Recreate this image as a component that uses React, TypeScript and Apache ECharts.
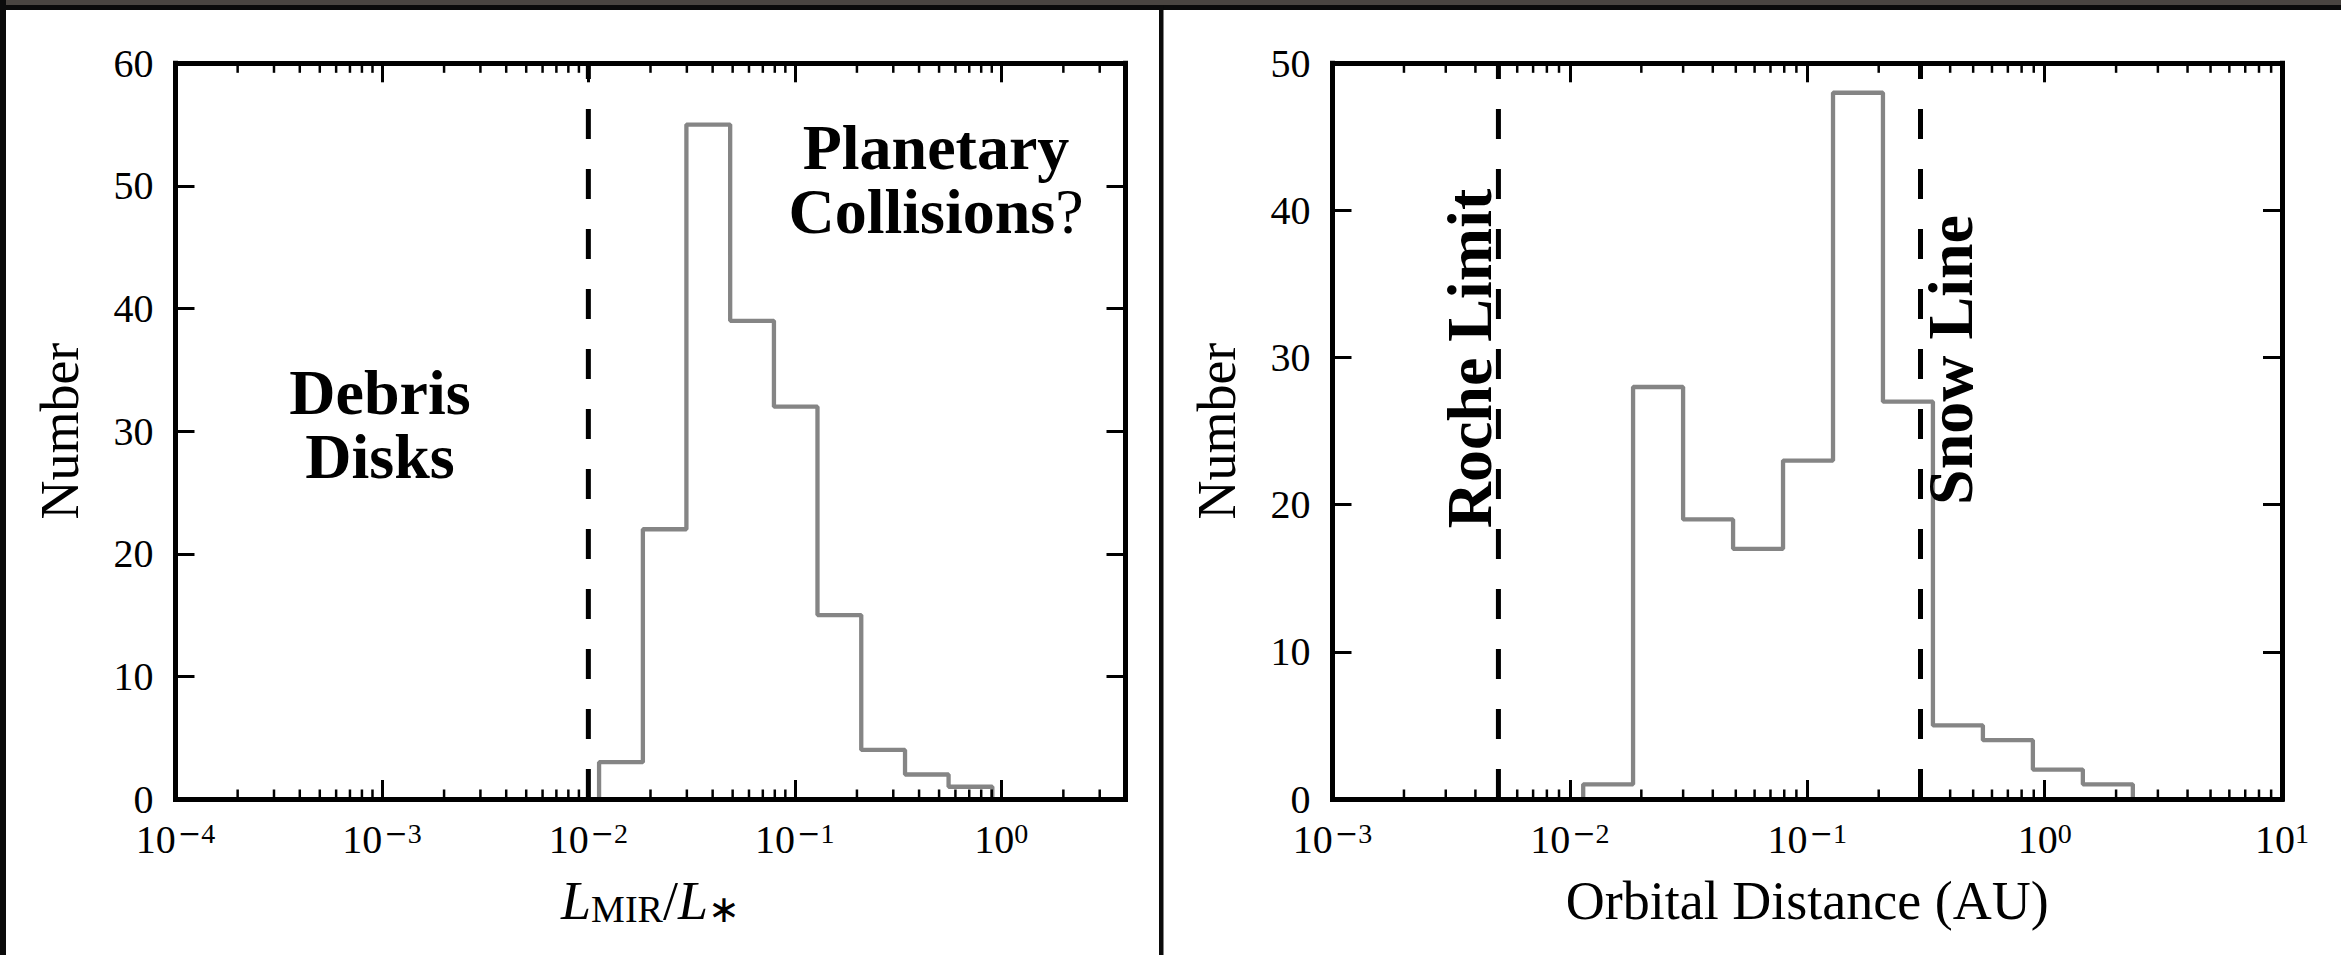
import React, { useEffect, useRef } from "react";
import * as echarts from "echarts";

const FONT = '"Liberation Serif", "Times New Roman", serif';
const MINUS_FONT = '"DejaVu Serif", "Liberation Serif", serif';

// ---------- Left panel: L_MIR / L_* histogram ----------
const lumBinEdges = [0.01127, 0.01837, 0.02985, 0.04864, 0.07925, 0.1288, 0.2099, 0.342, 0.5559, 0.9057];
const lumCounts = [3, 22, 55, 39, 32, 15, 4, 2, 1];
const lumThreshold = 0.01;
const lumAxisMin = 1e-4;
const lumAxisMax = 4;
const lumCountMax = 60;

// ---------- Right panel: orbital distance histogram ----------
const distBinEdges = [0.01138, 0.01846, 0.02999, 0.0487, 0.07907, 0.1284, 0.2084, 0.3384, 0.5495, 0.8923, 1.449, 2.353];
const distCounts = [1, 28, 19, 17, 23, 48, 27, 5, 4, 2, 1];
const rocheLimit = 0.005;
const snowLine = 0.3;
const distAxisMin = 1e-3;
const distAxisMax = 10;
const distCountMax = 50;

const countStep = 10;
const minorMultipliers = [2, 3, 4, 5, 6, 7, 8, 9];

// ---------- Texts ----------
const yAxisTitle = "Number";
const lumAxisTitle = "{i|L}{s|MIR}{n|/}{i|L}{s|\u2217}";
const distAxisTitle = "Orbital Distance (AU)";
const debrisLabel = "Debris\nDisks";
const planetaryLine1 = "Planetary";
const planetaryLine2 = "{b|Collisions}{r|?}";
const rocheLabel = "Roche Limit";
const snowLabel = "Snow Line";

function stepOutline(edges: number[], counts: number[]) {
  const pts: number[][] = [[edges[0], 0]];
  counts.forEach((c, i) => {
    pts.push([edges[i], c], [edges[i + 1], c]);
  });
  pts.push([edges[edges.length - 1], 0]);
  return pts;
}

function minorTickValues(min: number, max: number) {
  const out: number[][] = [];
  const e0 = Math.floor(Math.log10(min));
  const e1 = Math.ceil(Math.log10(max));
  for (let e = e0; e <= e1; e++) {
    for (const m of minorMultipliers) {
      const v = m * Math.pow(10, e);
      if (v > min * 1.0001 && v < max * 0.9999) out.push([v, 0]);
    }
  }
  return out;
}

function powLabel(v: number) {
  const e = Math.log10(v);
  const r = Math.round(e);
  if (Math.abs(e - r) > 1e-6) return "";
  if (r < 0) return "{b|10}{m|\u2212}{s|" + -r + "}";
  return "{b|10}{s|" + r + "}";
}

const axisLineStyle = { color: "#000", width: 5, cap: "square" };
const majorTick = { show: true, inside: true, length: 19, lineStyle: { color: "#000", width: 3 } };

function xAxes(gridIndex: number, min: number, max: number, name: string, nameStyle: any) {
  const common: any = {
    gridIndex,
    type: "log",
    logBase: 10,
    min,
    max,
    z: 5,
    splitLine: { show: false },
    axisLine: { show: true, onZero: false, lineStyle: axisLineStyle },
    axisTick: majorTick,
  };
  return [
    {
      ...common,
      position: "bottom",
      name,
      nameLocation: "middle",
      nameGap: 75,
      nameTextStyle: nameStyle,
      axisLabel: {
        show: true,
        formatter: powLabel,
        margin: 20,
        color: "#000",
        fontFamily: FONT,
        fontSize: 40,
        lineHeight: 40,
        rich: {
          b: { fontFamily: FONT, fontSize: 40, lineHeight: 40, color: "#000" },
          m: { fontFamily: MINUS_FONT, fontSize: 28, lineHeight: 28, verticalAlign: "top", padding: [0, 0, 0, 2], color: "#000" },
          s: { fontFamily: FONT, fontSize: 28, lineHeight: 28, verticalAlign: "top", color: "#000" },
        },
      },
    },
    { ...common, position: "top", axisLabel: { show: false } },
  ];
}

function yAxes(gridIndex: number, max: number) {
  const common: any = {
    gridIndex,
    type: "value",
    min: 0,
    max,
    interval: countStep,
    z: 5,
    splitLine: { show: false },
    axisLine: { show: true, onZero: false, lineStyle: axisLineStyle },
    axisTick: majorTick,
  };
  return [
    {
      ...common,
      position: "left",
      name: yAxisTitle,
      nameLocation: "middle",
      nameGap: 89,
      nameRotate: 90,
      nameTextStyle: { fontFamily: FONT, fontSize: 54, color: "#000" },
      axisLabel: { margin: 22, color: "#000", fontFamily: FONT, fontSize: 40, lineHeight: 28 },
    },
    { ...common, position: "right", axisLabel: { show: false } },
  ];
}

function minorTickSeries(xIdx: number, yIdx: number, min: number, max: number, yMax: number) {
  return {
    type: "custom",
    xAxisIndex: xIdx,
    yAxisIndex: yIdx,
    z: 6,
    silent: true,
    data: minorTickValues(min, max),
    renderItem: (_p: any, api: any) => {
      const v = api.value(0);
      const b = api.coord([v, 0]);
      const t = api.coord([v, yMax]);
      const st = { stroke: "#000", lineWidth: 2.5 };
      return {
        type: "group",
        children: [
          { type: "line", shape: { x1: b[0], y1: b[1], x2: b[0], y2: b[1] - 9.5 }, style: st },
          { type: "line", shape: { x1: t[0], y1: t[1], x2: t[0], y2: t[1] + 9.5 }, style: st },
        ],
      };
    },
  };
}

function histSeries(xIdx: number, yIdx: number, edges: number[], counts: number[]) {
  return {
    type: "line",
    xAxisIndex: xIdx,
    yAxisIndex: yIdx,
    data: stepOutline(edges, counts),
    symbol: "none",
    silent: true,
    z: 2,
    lineStyle: { color: "#858585", width: 4.3 },
  };
}

function dashedSeries(xIdx: number, yIdx: number, x: number, yMax: number) {
  return {
    type: "line",
    xAxisIndex: xIdx,
    yAxisIndex: yIdx,
    data: [
      [x, 0],
      [x, yMax],
    ],
    symbol: "none",
    silent: true,
    z: 3,
    lineStyle: { color: "#000", width: 5, type: [30, 30] },
  };
}

const boldStyle = { fontFamily: FONT, fontSize: 64, fontWeight: "bold", fill: "#000" };

export default function App() {
  const ref = useRef<HTMLDivElement>(null);

  useEffect(() => {
    document.body.style.margin = "0";
    if (!ref.current) return;
    const chart = echarts.init(ref.current, undefined, { renderer: "svg" });

    const lumNameStyle = {
      fontFamily: FONT,
      fontSize: 54,
      color: "#000",
      rich: {
        i: { fontFamily: FONT, fontSize: 54, fontStyle: "italic", color: "#000" },
        n: { fontFamily: FONT, fontSize: 54, color: "#000" },
        s: { fontFamily: FONT, fontSize: 38, lineHeight: 22, verticalAlign: "bottom", color: "#000" },
      },
    };
    const distNameStyle = { fontFamily: FONT, fontSize: 54, color: "#000" };

    chart.setOption({
      animation: false,
      backgroundColor: "#fff",
      grid: [
        { left: 175.5, top: 63.3, width: 950, height: 735.7 },
        { left: 1332.5, top: 63.3, width: 949.5, height: 735.7 },
      ],
      xAxis: [
        ...xAxes(0, lumAxisMin, lumAxisMax, lumAxisTitle, lumNameStyle),
        ...xAxes(1, distAxisMin, distAxisMax, distAxisTitle, distNameStyle),
      ],
      yAxis: [...yAxes(0, lumCountMax), ...yAxes(1, distCountMax)],
      series: [
        histSeries(0, 0, lumBinEdges, lumCounts),
        dashedSeries(0, 0, lumThreshold, lumCountMax),
        minorTickSeries(0, 0, lumAxisMin, lumAxisMax, lumCountMax),
        histSeries(2, 2, distBinEdges, distCounts),
        dashedSeries(2, 2, rocheLimit, distCountMax),
        dashedSeries(2, 2, snowLine, distCountMax),
        minorTickSeries(2, 2, distAxisMin, distAxisMax, distCountMax),
      ],
      graphic: [
        { type: "rect", silent: true, shape: { x: 0, y: 0, width: 2341, height: 5 }, style: { fill: "#4a4541" } },
        { type: "rect", silent: true, shape: { x: 0, y: 5, width: 2341, height: 5 }, style: { fill: "#0b0b0b" } },
        { type: "rect", silent: true, shape: { x: 0, y: 0, width: 6, height: 955 }, style: { fill: "#0b0b0b" } },
        { type: "rect", silent: true, shape: { x: 1159, y: 5, width: 4.5, height: 950 }, style: { fill: "#0b0b0b" } },
        {
          type: "text",
          x: 380,
          y: 424,
          z: 20,
          style: { ...boldStyle, text: debrisLabel, align: "center", verticalAlign: "middle", lineHeight: 64 },
        },
        {
          type: "text",
          x: 936,
          y: 147,
          z: 20,
          style: { ...boldStyle, text: planetaryLine1, align: "center", verticalAlign: "middle", lineHeight: 58 },
        },
        {
          type: "text",
          x: 936,
          y: 211,
          z: 20,
          style: {
            text: planetaryLine2,
            align: "center",
            verticalAlign: "middle",
            fill: "#000",
            rich: {
              b: { fontFamily: FONT, fontSize: 64, fontWeight: "bold", lineHeight: 58, fill: "#000" },
              r: { fontFamily: FONT, fontSize: 64, fontWeight: "normal", lineHeight: 58, fill: "#000" },
            },
          },
        },
        {
          type: "text",
          x: 1469,
          y: 358.5,
          rotation: Math.PI / 2,
          z: 20,
          style: { ...boldStyle, text: rocheLabel, align: "center", verticalAlign: "middle", lineHeight: 58 },
        },
        {
          type: "text",
          x: 1950,
          y: 360,
          rotation: Math.PI / 2,
          z: 20,
          style: { ...boldStyle, text: snowLabel, align: "center", verticalAlign: "middle", lineHeight: 58 },
        },
      ],
    });

    return () => chart.dispose();
  }, []);

  return <div ref={ref} style={{ width: 2341, height: 955, position: "absolute", left: 0, top: 0 }} />;
}
